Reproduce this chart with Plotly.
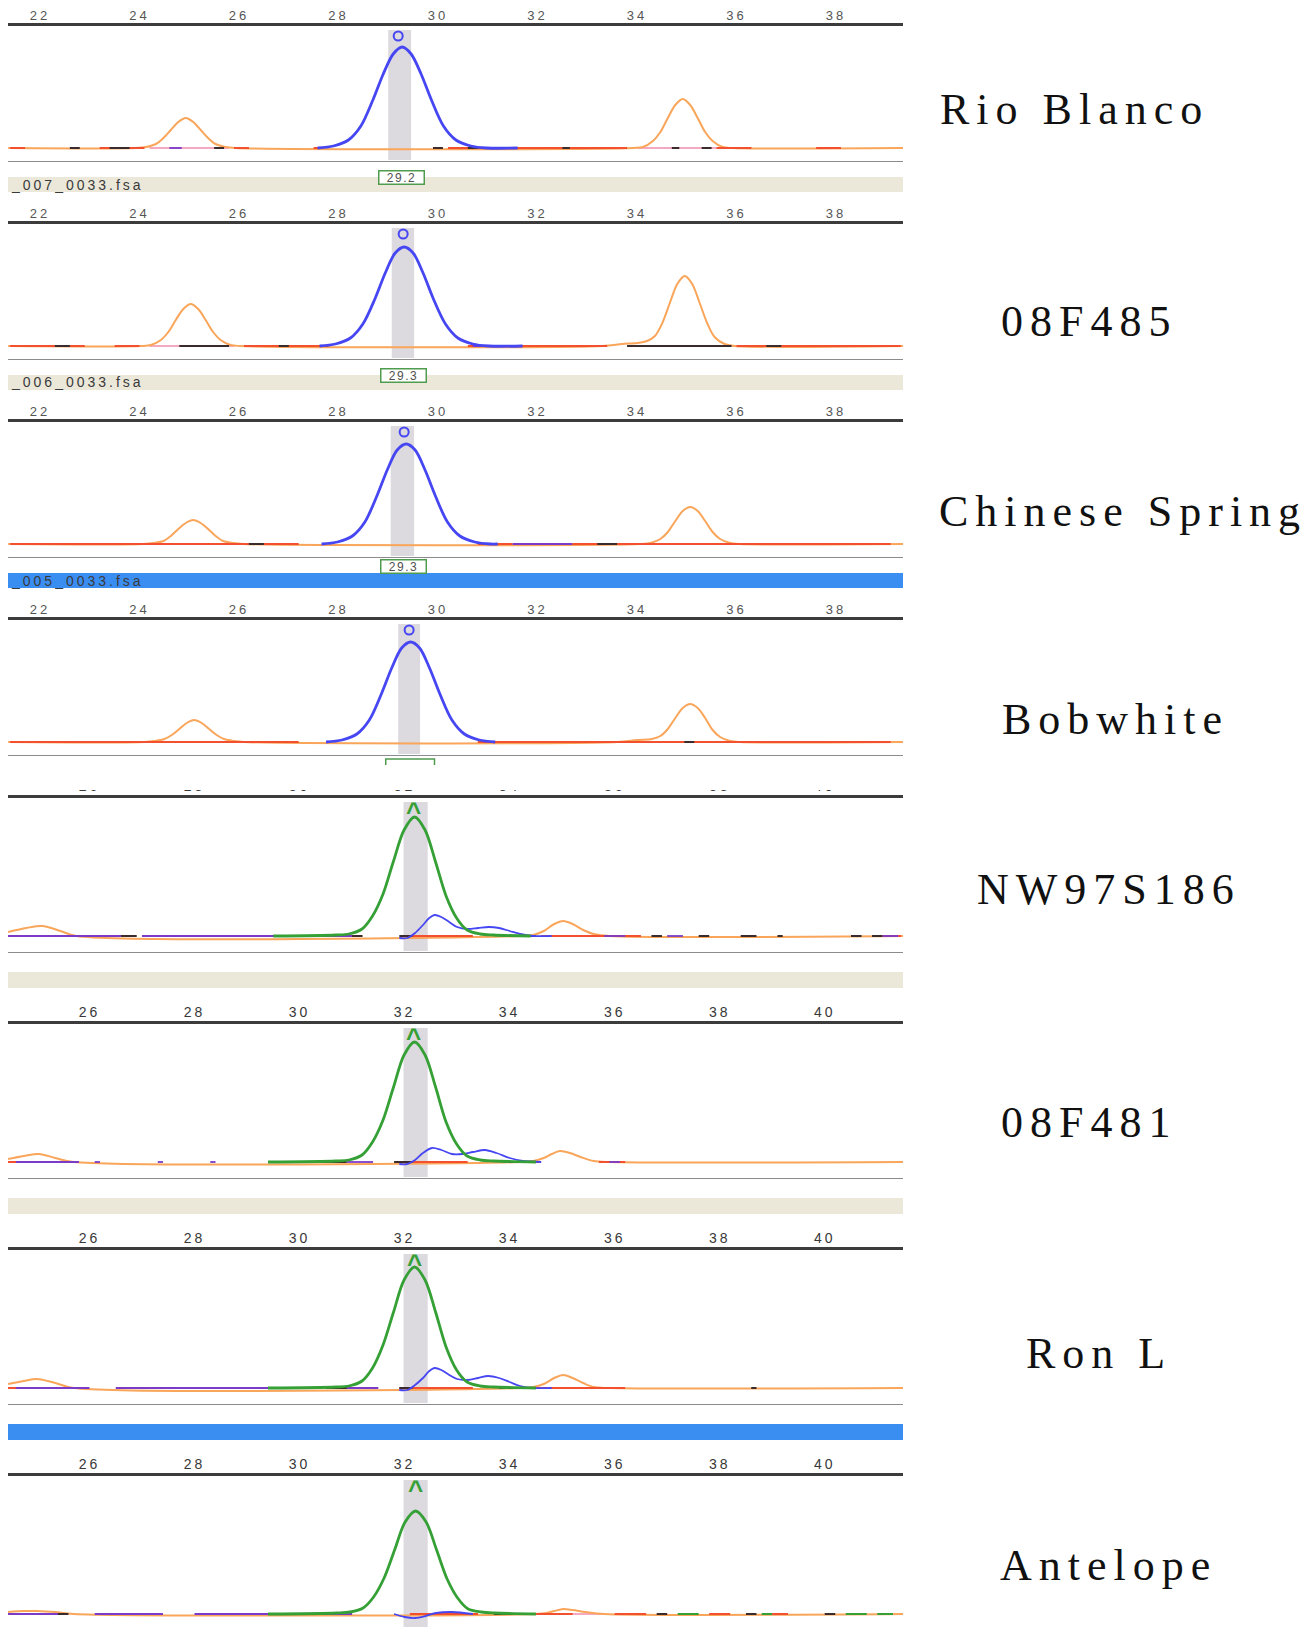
import plotly.graph_objects as go

# The page body has an 8px margin; the figure is sized and shifted to fit the window.
WIN_W, WIN_H = 1312, 1627
OFF = 8
W, H = WIN_W - OFF, WIN_H - OFF
PLOT_X0, PLOT_X1 = 8, 903

# ---------------- labels / axes ----------------
SAMPLES = ["Rio Blanco", "08F485", "Chinese Spring", "Bobwhite",
           "NW97S186", "08F481", "Ron L", "Antelope"]
LABEL_CX = [1074, 1089, 1123, 1115, 1109, 1089, 1099, 1108]
LABEL_CY = [110, 322, 512, 721, 891, 1123, 1354, 1566]

AXIS_TOP = [26, 224, 422, 620, 798, 1024, 1250, 1476]
RANGE_A = [21.357, 39.347]
RANGE_B = [24.449, 41.49]
TICKS_A = [22, 24, 26, 28, 30, 32, 34, 36, 38]
TICKS_B = [26, 28, 30, 32, 34, 36, 38, 40]

BIN_LABELS = ["29.2", "29.3", "29.3", ""]
BIN_X = [29.26, 29.30, 29.30, 29.43]
FILE_NAMES = ["_007_0033.fsa", "_006_0033.fsa", "_005_0033.fsa", None,
              "", "", "", None]
BAR_KIND = ["beige", "beige", "blue", None, "beige", "beige", "blue", None]
BAND_X = [(29.0, 29.46), (29.07, 29.52), (29.05, 29.52), (29.2, 29.64),
          (31.98, 32.44), (31.98, 32.44), (31.98, 32.44), (31.98, 32.44)]
CALL_X = [29.2, 29.3, 29.32, 29.42, 32.17, 32.17, 32.19, 32.21]

# ---------------- panel 1: Rio Blanco ----------------
P1_BLUE_X = [27.58, 27.9, 28.2, 28.45, 28.7, 28.9, 29.1, 29.28, 29.46, 29.66, 29.86, 30.11, 30.36, 30.66, 30.98, 31.6]
P1_BLUE_Y = [0, 2, 8, 22, 49, 74, 94, 101, 94, 74, 49, 22, 8, 2, 0, 0]
P1_ORANGE_X = [21.36, 23.93, 24.13, 24.33, 24.48, 24.63, 24.78, 24.93, 25.08, 25.23, 25.38, 25.53, 25.73, 25.93,
               33.92, 34.12, 34.32, 34.47, 34.62, 34.77, 34.92, 35.07, 35.22, 35.37, 35.52, 35.72, 35.92, 39.35]
P1_ORANGE_Y = [0, 0, 1, 4, 10, 18, 26, 30, 26, 18, 10, 4, 1, 0,
               0, 1, 7, 16, 30, 43, 49, 43, 30, 16, 7, 1, 0, 0]
P1_RED = [(21.4, 21.7), (23.2, 24.1), (25.9, 26.2), (27.5, 27.7), (30.2, 33.8), (35.6, 36.3), (37.6, 38.1)]
P1_DARK = [(22.6, 22.8), (23.4, 23.8), (25.5, 25.7), (29.9, 30.1), (30.6, 30.8), (32.5, 32.65), (34.7, 34.85), (35.3, 35.5)]
P1_PINK = [(24.2, 25.8), (34.0, 35.8)]
P1_PURPLE = [(24.6, 24.85)]

# ---------------- panel 2: 08F485 ----------------
P2_BLUE_X = [27.62, 27.94, 28.24, 28.49, 28.74, 28.94, 29.14, 29.32, 29.5, 29.7, 29.9, 30.15, 30.4, 30.7, 31.02, 31.7]
P2_BLUE_Y = [0, 2, 8, 22, 48, 73, 93, 99, 93, 73, 48, 22, 8, 2, 0, 0]
P2_ORANGE_X = [21.36, 24.03, 24.23, 24.43, 24.58, 24.73, 24.88, 25.03, 25.18, 25.33, 25.48, 25.63, 25.83, 26.03,
               33.3, 33.7, 34.0, 34.2, 34.36, 34.51, 34.66, 34.81, 34.96, 35.11, 35.26, 35.41, 35.56, 35.76, 35.96, 39.35]
P2_ORANGE_Y = [0, 0, 1, 6, 14, 26, 37, 42, 37, 26, 14, 6, 1, 0,
               0, 2, 3, 5, 10, 23, 43, 62, 70, 62, 43, 23, 9, 2, 0, 0]
P2_RED = [(21.4, 22.9), (23.5, 24.0), (26.1, 27.8), (30.6, 33.4), (36.0, 39.3)]
P2_DARK = [(22.3, 22.6), (24.8, 25.8), (26.8, 27.0), (31.0, 31.3), (33.8, 35.9), (36.6, 36.9)]
P2_PINK = [(24.2, 25.9), (34.1, 35.9)]
P2_PURPLE = [(30.7, 31.4)]

# ---------------- panel 3: Chinese Spring ----------------
P3_BLUE_X = [27.66, 27.98, 28.28, 28.53, 28.78, 28.98, 29.18, 29.36, 29.54, 29.74, 29.94, 30.19, 30.44, 30.74, 31.06, 31.2]
P3_BLUE_Y = [0, 2, 8, 22, 49, 74, 94, 100, 94, 74, 49, 22, 8, 2, 0, 0]
P3_ORANGE_X = [21.36, 24.08, 24.28, 24.48, 24.63, 24.78, 24.93, 25.08, 25.23, 25.38, 25.53, 25.68, 25.88, 26.08,
               34.07, 34.27, 34.47, 34.62, 34.77, 34.92, 35.07, 35.22, 35.37, 35.52, 35.67, 35.87, 36.07, 39.35]
P3_ORANGE_Y = [0, 0, 1, 3, 8, 15, 21, 24, 21, 15, 8, 3, 1, 0,
               0, 1, 5, 12, 23, 33, 37, 33, 23, 12, 5, 1, 0, 0]
P3_RED = [(21.4, 27.2), (30.8, 31.5), (32.7, 39.1)]
P3_DARK = [(26.2, 26.5), (32.0, 32.2), (33.2, 33.6)]
P3_PINK = [(24.3, 25.9), (34.3, 35.8)]
P3_PURPLE = [(31.5, 32.7)]

# ---------------- panel 4: Bobwhite ----------------
P4_BLUE_X = [27.75, 28.07, 28.37, 28.62, 28.87, 29.07, 29.27, 29.45, 29.63, 29.83, 30.03, 30.28, 30.53, 30.83, 31.15]
P4_BLUE_Y = [0, 2, 8, 22, 49, 74, 94, 100, 94, 74, 49, 22, 8, 2, 0]
P4_ORANGE_X = [21.36, 24.1, 24.3, 24.5, 24.65, 24.8, 24.95, 25.1, 25.25, 25.4, 25.55, 25.7, 25.9, 26.1,
               33.6, 34.0, 34.3, 34.47, 34.62, 34.77, 34.92, 35.07, 35.22, 35.37, 35.52, 35.67, 35.87, 36.07, 39.35]
P4_ORANGE_Y = [0, 0, 1, 3, 7, 13, 19, 22, 19, 13, 7, 3, 1, 0,
               0, 2, 3, 6, 13, 24, 34, 38, 34, 24, 12, 5, 1, 0, 0]
P4_RED = [(21.4, 27.2), (30.8, 39.1)]
P4_DARK = [(34.95, 35.15)]
P4_PINK = [(24.3, 26.0), (34.2, 35.8)]
P4_PURPLE = []

# ---------------- panel 5: NW97S186 ----------------
P5_GREEN_X = [29.5, 30.69, 30.94, 31.19, 31.39, 31.59, 31.79, 31.99, 32.19, 32.39, 32.59, 32.79, 32.99, 33.19, 33.44, 33.69, 34.4]
P5_GREEN_Y = [0, 1, 2, 7, 20, 42, 75, 106, 119, 106, 74, 40, 18, 6, 2, 1, 0]
P5_BLUE_X = [31.9, 32.05, 32.2, 32.35, 32.47, 32.57, 32.7, 32.85, 33.0, 33.2, 33.4, 33.6, 33.8, 34.0, 34.2, 34.45, 34.8]
P5_BLUE_Y = [-2, -2, 3, 11, 18, 21, 19, 14, 9, 7, 8, 9, 8, 5, 2, 0, 0]
P5_ORANGE_X = [24.45, 24.8, 25.1, 25.45, 25.75, 34.2, 34.45, 34.65, 34.85, 35.02, 35.2, 35.4, 35.6, 35.9, 41.49]
P5_ORANGE_Y = [4, 8, 10, 5, 0, 0, 1, 5, 12, 15, 12, 6, 2, 0, 0]
P5_RED = [(24.45, 24.7), (26.1, 26.4), (28.6, 28.9), (32.0, 33.3), (34.6, 36.5), (40.9, 41.45)]
P5_DARK = [(25.2, 25.5), (26.6, 26.9), (30.6, 31.2), (31.9, 32.15), (33.9, 34.5), (36.7, 36.9),
           (37.6, 37.8), (38.4, 38.7), (39.1, 39.2), (40.5, 40.7), (40.9, 41.1)]
P5_PINK = []
P5_PURPLE = [(24.45, 26.6), (27.0, 31.0), (35.8, 36.2), (37.0, 37.3), (41.1, 41.4)]

# ---------------- panel 6: 08F481 ----------------
P6_GREEN_X = [29.4, 30.69, 30.94, 31.19, 31.39, 31.59, 31.79, 31.99, 32.19, 32.39, 32.59, 32.79, 32.99, 33.19, 33.44, 33.69, 34.5]
P6_GREEN_Y = [0, 1, 2, 7, 20, 42, 75, 107, 120, 107, 75, 40, 18, 6, 2, 1, 0]
P6_BLUE_X = [31.9, 32.05, 32.2, 32.35, 32.52, 32.7, 32.9, 33.1, 33.3, 33.53, 33.75, 34.0, 34.25, 34.6]
P6_BLUE_Y = [-2, -2, 2, 9, 14, 12, 8, 8, 10, 12, 9, 4, 1, 0]
P6_ORANGE_X = [24.45, 24.75, 25.04, 25.35, 25.7, 34.2, 34.45, 34.65, 34.8, 34.96, 35.15, 35.35, 35.6, 35.9, 41.49]
P6_ORANGE_Y = [3, 6, 8, 4, 0, 0, 1, 4, 8, 11, 9, 5, 1, 0, 0]
P6_RED = [(24.45, 24.8), (32.0, 33.2), (34.0, 34.6), (35.7, 36.2)]
P6_DARK = [(25.0, 25.6), (30.4, 30.9), (31.8, 32.15), (33.9, 34.5)]
P6_PINK = []
P6_PURPLE = [(24.6, 25.8), (26.1, 26.2), (27.3, 27.4), (28.3, 28.4), (29.6, 30.4), (30.9, 31.4), (35.9, 36.1)]

# ---------------- panel 7: Ron L ----------------
P7_GREEN_X = [29.4, 30.69, 30.94, 31.19, 31.39, 31.59, 31.79, 31.99, 32.19, 32.39, 32.59, 32.79, 32.99, 33.19, 33.44, 33.69, 34.5]
P7_GREEN_Y = [0, 1, 2, 7, 20, 43, 76, 108, 121, 108, 76, 41, 18, 6, 2, 1, 0]
P7_BLUE_X = [31.9, 32.05, 32.2, 32.35, 32.47, 32.57, 32.7, 32.85, 33.0, 33.2, 33.4, 33.59, 33.8, 34.0, 34.2, 34.45, 34.8]
P7_BLUE_Y = [-2, -2, 3, 10, 17, 20, 18, 13, 9, 8, 10, 12, 10, 6, 2, 0, 0]
P7_ORANGE_X = [24.45, 24.75, 25.0, 25.35, 25.7, 34.2, 34.45, 34.65, 34.85, 35.02, 35.2, 35.4, 35.6, 35.9, 41.49]
P7_ORANGE_Y = [4, 7, 9, 5, 0, 0, 1, 4, 10, 13, 10, 5, 1, 0, 0]
P7_RED = [(24.45, 24.8), (31.9, 33.3), (34.3, 36.2)]
P7_DARK = [(25.0, 25.5), (30.5, 31.0), (31.9, 32.15), (33.8, 34.3), (38.6, 38.7)]
P7_PINK = [(34.5, 35.6)]
P7_PURPLE = [(24.6, 26.0), (26.5, 30.4), (30.9, 31.5)]

# ---------------- panel 8: Antelope ----------------
P8_GREEN_X = [29.4, 30.71, 30.96, 31.21, 31.41, 31.61, 31.81, 32.01, 32.21, 32.41, 32.61, 32.81, 33.01, 33.21, 33.46, 33.71, 34.5]
P8_GREEN_Y = [0, 1, 2, 6, 17, 36, 64, 92, 103, 92, 64, 35, 16, 5, 2, 1, 0]
P8_BLUE_X = [31.8, 32.0, 32.2, 32.4, 32.6, 32.9, 33.3]
P8_BLUE_Y = [0, -3, -4, -2, 1, 2, 0]
P8_ORANGE_X = [24.45, 24.75, 25.0, 25.35, 25.7, 34.5, 34.7, 34.85, 35.02, 35.2, 35.45, 35.8, 41.49]
P8_ORANGE_Y = [2, 3, 3, 2, 0, 0, 1, 3, 5, 4, 2, 0, 0]
P8_RED = [(24.45, 24.7), (32.1, 33.4), (34.0, 35.2), (36.0, 36.6), (37.8, 38.2), (39.0, 39.3)]
P8_DARK = [(25.3, 25.6), (30.4, 31.0), (33.7, 34.2), (36.8, 37.0), (38.5, 38.7), (40.0, 40.2)]
P8_PINK = [(34.5, 35.8)]
P8_PURPLE = [(24.45, 25.4), (26.1, 27.4), (28.0, 31.0)]
P8_GREENDASH = [(37.2, 37.6), (38.8, 39.0), (40.4, 40.8), (41.0, 41.3)]

PANELS = [
    dict(main=("blue", P1_BLUE_X, P1_BLUE_Y), orange=(P1_ORANGE_X, P1_ORANGE_Y), red=P1_RED, dark=P1_DARK, pink=P1_PINK, purple=P1_PURPLE),
    dict(main=("blue", P2_BLUE_X, P2_BLUE_Y), orange=(P2_ORANGE_X, P2_ORANGE_Y), red=P2_RED, dark=P2_DARK, pink=P2_PINK, purple=P2_PURPLE),
    dict(main=("blue", P3_BLUE_X, P3_BLUE_Y), orange=(P3_ORANGE_X, P3_ORANGE_Y), red=P3_RED, dark=P3_DARK, pink=P3_PINK, purple=P3_PURPLE),
    dict(main=("blue", P4_BLUE_X, P4_BLUE_Y), orange=(P4_ORANGE_X, P4_ORANGE_Y), red=P4_RED, dark=P4_DARK, pink=P4_PINK, purple=P4_PURPLE),
    dict(main=("green", P5_GREEN_X, P5_GREEN_Y), minor=(P5_BLUE_X, P5_BLUE_Y), orange=(P5_ORANGE_X, P5_ORANGE_Y), red=P5_RED, dark=P5_DARK, pink=P5_PINK, purple=P5_PURPLE),
    dict(main=("green", P6_GREEN_X, P6_GREEN_Y), minor=(P6_BLUE_X, P6_BLUE_Y), orange=(P6_ORANGE_X, P6_ORANGE_Y), red=P6_RED, dark=P6_DARK, pink=P6_PINK, purple=P6_PURPLE),
    dict(main=("green", P7_GREEN_X, P7_GREEN_Y), minor=(P7_BLUE_X, P7_BLUE_Y), orange=(P7_ORANGE_X, P7_ORANGE_Y), red=P7_RED, dark=P7_DARK, pink=P7_PINK, purple=P7_PURPLE),
    dict(main=("green", P8_GREEN_X, P8_GREEN_Y), minor=(P8_BLUE_X, P8_BLUE_Y), orange=(P8_ORANGE_X, P8_ORANGE_Y), red=P8_RED, dark=P8_DARK, pink=P8_PINK, purple=P8_PURPLE, gdash=P8_GREENDASH),
]

# ---------------- styles ----------------
BLUE = "#4646f2"
ORANGE = "#f9a55a"
GREEN = "#35a035"
RED = "#f2502e"
PINK = "#f28cad"
DARK = "#3a2c2c"
PURPLE = "#7a3cc8"
BAND = "#dcd9df"
BEIGE = "#ebe8da"
BARBLUE = "#3a8ef2"
AXIS = "#3c3c3c"
BOTLINE = "#8c8c8c"
SANS = "Liberation Sans, Arial, sans-serif"
SERIF = "Liberation Serif, Times New Roman, serif"


def py(p):
    return 1 - (p - OFF) / H


def pxp(p):
    return (p - OFF) / W


def seg_xy(pairs):
    xs, ys = [], []
    for a, b in pairs:
        xs += [a, b, None]
        ys += [0, 0, None]
    return xs, ys


def spaced(t, px):
    return '<span style="letter-spacing:%spx">%s</span>' % (px, t)


fig = go.Figure()
shapes, annotations = [], []
layout_axes = {}

for i, p in enumerate(PANELS):
    n = i + 1
    sfx = "" if n == 1 else str(n)
    A = AXIS_TOP[i]
    if i < 4:
        bottom = A + 136
        yr = [-14, 122]
        rng, ticks = RANGE_A, TICKS_A
        tfont = dict(family=SANS, size=13, color="#555555")
        lsp = 3
        botline_y = -14
    else:
        bottom = min(A + 155, WIN_H)
        yr = [138 - (bottom - A), 138]
        rng, ticks = RANGE_B, TICKS_B
        tfont = dict(family=SANS, size=14, color="#383838")
        lsp = 3
        botline_y = -17
    xa, ya = "xaxis" + sfx, "yaxis" + sfx
    layout_axes[xa] = dict(domain=[pxp(PLOT_X0), pxp(PLOT_X1)], range=rng, side="top",
                           anchor="y" + sfx, showline=True, linecolor=AXIS, linewidth=3,
                           ticks="", tickvals=ticks, ticktext=[spaced(str(t), lsp) for t in ticks],
                           tickfont=tfont, showgrid=False, zeroline=False, fixedrange=True,
                           ticklabelstandoff=-2)
    layout_axes[ya] = dict(domain=[py(bottom), py(A)], range=yr, visible=False,
                           anchor="x" + sfx, fixedrange=True)
    xr, yrf = "x" + sfx, "y" + sfx

    # shaded bin band
    b0, b1 = BAND_X[i]
    shapes.append(dict(type="rect", xref=xr, yref=yrf, x0=b0, x1=b1,
                       y0=yr[0] + 2 if i < 7 else yr[0], y1=yr[1] - 4,
                       fillcolor=BAND, line=dict(width=0), layer="below"))
    # bottom grey line
    if i < 7:
        shapes.append(dict(type="line", xref=xr + " domain", yref=yrf, x0=0, x1=1,
                           y0=botline_y, y1=botline_y, line=dict(color=BOTLINE, width=2)))

    def add(x, y, color, width, shape="linear"):
        fig.add_trace(go.Scatter(x=x, y=y, mode="lines", xaxis=xr, yaxis=yrf,
                                 line=dict(color=color, width=width, shape=shape, smoothing=0.9),
                                 hoverinfo="skip", showlegend=False))

    if p["pink"]:
        add(*seg_xy(p["pink"]), PINK, 1.6)
    add(p["orange"][0], p["orange"][1], ORANGE, 2.0, "spline")
    if p["red"]:
        add(*seg_xy(p["red"]), RED, 2.0)
    if p["dark"]:
        add(*seg_xy(p["dark"]), DARK, 2.0)
    if p["purple"]:
        add(*seg_xy(p["purple"]), PURPLE, 1.8)
    if p.get("gdash"):
        add(*seg_xy(p["gdash"]), GREEN, 2.0)
    if p.get("minor"):
        add(p["minor"][0], p["minor"][1], BLUE, 1.8, "spline")
    kind, mx, my = p["main"]
    add(mx, my, BLUE if kind == "blue" else GREEN, 2.8, "spline")

    # allele call markers
    if kind == "blue":
        fig.add_trace(go.Scatter(x=[CALL_X[i]], y=[112], mode="markers", xaxis=xr, yaxis=yrf,
                                 marker=dict(symbol="circle-open", size=9, color=BLUE,
                                             line=dict(width=2, color=BLUE)),
                                 hoverinfo="skip", showlegend=False))
    else:
        fig.add_trace(go.Scatter(x=[CALL_X[i]], y=[122], mode="text", xaxis=xr, yaxis=yrf,
                                 text=["<b>^</b>"], textfont=dict(family=SANS, size=26, color=GREEN),
                                 textposition="middle center",
                                 hoverinfo="skip", showlegend=False))

    # bin label boxes
    if i < 3:
        annotations.append(dict(x=BIN_X[i], xref=xr, y=py(A + 144), yref="paper",
                                text=spaced(BIN_LABELS[i], 1.5), showarrow=False,
                                font=dict(family=SANS, size=12, color="#505050"),
                                bordercolor="#4f9c4f", borderwidth=1.5, borderpad=1,
                                bgcolor="white", width=42, height=10))
    elif i == 3:
        shapes.append(dict(type="rect", xref=xr, yref="paper", x0=28.95, x1=29.93,
                           y0=py(A + 152), y1=py(A + 139), fillcolor="white",
                           line=dict(color="#4f9c4f", width=1.5), layer="above"))

    # file-name bars
    if BAR_KIND[i]:
        if i < 4:
            t0, t1 = A + 151, A + 166
        else:
            t0, t1 = A + 174, A + 190
        shapes.append(dict(type="rect", xref="paper", yref="paper", x0=pxp(PLOT_X0), x1=pxp(PLOT_X1),
                           y0=py(t1), y1=py(t0), fillcolor=BEIGE if BAR_KIND[i] == "beige" else BARBLUE,
                           line=dict(width=0), layer="below"))
        if FILE_NAMES[i]:
            annotations.append(dict(x=pxp(9), y=py((t0 + t1) / 2), xref="paper", yref="paper",
                                    xanchor="left", yanchor="middle", showarrow=False,
                                    text=spaced(FILE_NAMES[i], 3),
                                    font=dict(family=SANS, size=14, color="#3a3a3a")))

    # sample names
    annotations.append(dict(x=pxp(LABEL_CX[i]), y=py(LABEL_CY[i] - 1), xref="paper", yref="paper",
                            xanchor="center", yanchor="middle", showarrow=False,
                            text=spaced(SAMPLES[i], 7),
                            font=dict(family=SERIF, size=44, color="#111111")))

# white gap where the screenshot of panel 4 was cut and panel 5 starts
shapes.append(dict(type="rect", xref="paper", yref="paper", x0=0, x1=pxp(PLOT_X1 + 4),
                   y0=py(790), y1=py(765), fillcolor="white", line=dict(width=0), layer="above"))

fig.update_layout(width=W, height=H, margin=dict(l=0, r=0, t=0, b=0),
                  paper_bgcolor="white", plot_bgcolor="white", showlegend=False,
                  shapes=shapes, annotations=annotations, **layout_axes)

fig.write_html("out.html")
